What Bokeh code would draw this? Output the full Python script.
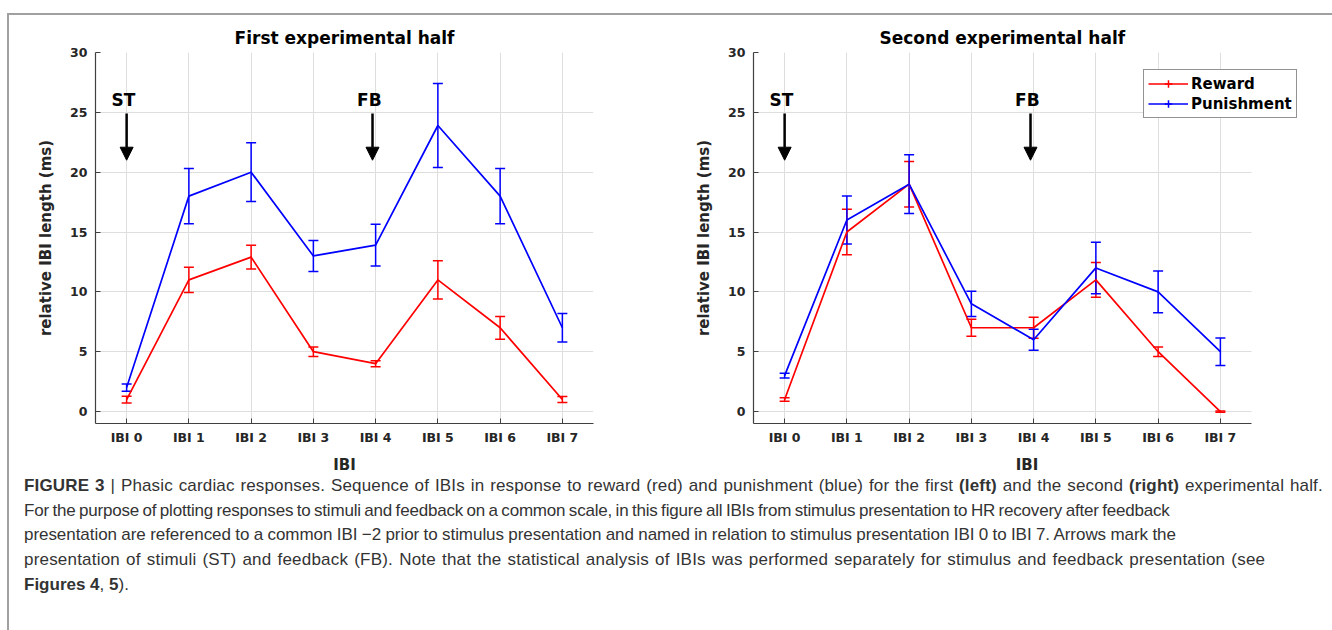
import numpy as np
from bokeh.plotting import figure
from bokeh.models import (ColumnDataSource, Whisker, TeeHead, Arrow, NormalHead, Range1d,
                          FixedTicker, Legend, LegendItem, Label, Div, Grid)
from bokeh.layouts import row, column
from bokeh.embed import file_html
from bokeh.resources import INLINE

# ---------------- data ----------------
ibi = [0, 1, 2, 3, 4, 5, 6, 7]
ibi_labels = ["IBI 0", "IBI 1", "IBI 2", "IBI 3", "IBI 4", "IBI 5", "IBI 6", "IBI 7"]
y_ticks = [0, 5, 10, 15, 20, 25, 30]

reward_first = [1.0, 11.0, 12.9, 5.0, 4.0, 11.0, 7.0, 1.0]
reward_first_err = [0.28, 1.05, 1.0, 0.4, 0.25, 1.6, 0.95, 0.25]
punish_first = [2.0, 18.0, 20.0, 13.0, 13.9, 23.9, 18.0, 7.0]
punish_first_err = [0.3, 2.3, 2.45, 1.3, 1.75, 3.5, 2.3, 1.2]

reward_second = [1.0, 15.0, 19.0, 7.0, 7.0, 11.0, 5.0, 0.0]
reward_second_err = [0.15, 1.9, 1.9, 0.72, 0.87, 1.45, 0.4, 0.05]
punish_second = [3.0, 16.0, 19.0, 9.0, 6.0, 12.0, 10.0, 5.0]
punish_second_err = [0.2, 2.0, 2.45, 1.05, 0.87, 2.15, 1.75, 1.15]

titles = ["First experimental half", "Second experimental half"]
event_labels = ["ST", "FB"]
event_x = [0.0, 3.95]
series_names = ["Reward", "Punishment"]
series_colors = ["#ff0000", "#0000ff"]

FONT = "DejaVu Sans"
TXT = "#262626"
GRID = "#dedede"
HAS_CROSS_BOUNDS = "cross_bounds" in Grid.properties()
FIG_H = 464


def make_panel(title, rew, rew_err, pun, pun_err, width, mbl, mbr, x_end, with_legend, title_offset):
    p = figure(width=width, height=FIG_H, x_range=Range1d(-0.5, x_end), y_range=Range1d(-1, 30),
               output_backend="svg", toolbar_location=None,
               min_border_left=mbl, min_border_right=mbr, min_border_top=37, min_border_bottom=56,
               title=title)
    p.outline_line_color = None
    p.background_fill_color = "white"
    p.border_fill_color = "white"
    p.title.text_font = FONT
    p.title.text_font_style = "bold"
    p.title.text_font_size = "17px"
    p.title.text_color = "#000000"
    if title_offset is None:
        p.title.align = "center"
    else:
        p.title.align = "left"
        p.title.offset = title_offset
    p.title.standoff = 9

    p.xaxis.ticker = FixedTicker(ticks=ibi)
    p.xaxis.major_label_overrides = {i: lab for i, lab in zip(ibi, ibi_labels)}
    p.xaxis.bounds = (-0.5, 7.5)
    p.yaxis.ticker = FixedTicker(ticks=y_ticks)
    for ax in (p.xaxis[0], p.yaxis[0]):
        ax.axis_line_color = "#404040"
        ax.axis_line_width = 1.2
        ax.major_tick_line_color = "#404040"
        ax.major_tick_in = 5
        ax.major_tick_out = 0
        ax.minor_tick_line_color = None
        ax.major_label_text_font = FONT
        ax.major_label_text_font_style = "bold"
        ax.major_label_text_font_size = "12.5px"
        ax.major_label_text_color = TXT
        ax.axis_label_text_font = FONT
        ax.axis_label_text_font_style = "bold"
        ax.axis_label_text_font_size = "15px"
        ax.axis_label_text_color = TXT
    p.xaxis.axis_label = "IBI"
    p.yaxis.axis_label = "relative IBI length (ms)"
    p.xaxis.major_label_standoff = 6
    p.xaxis.axis_label_standoff = 8
    p.yaxis.major_label_standoff = 8
    p.yaxis.axis_label_standoff = 12

    p.xgrid.grid_line_color = GRID
    p.xgrid.grid_line_width = 1
    if x_end > 7.5 and not HAS_CROSS_BOUNDS:
        p.ygrid.grid_line_color = None
        p.segment(x0=-0.5, x1=7.5, y0=y_ticks, y1=y_ticks, line_color=GRID, line_width=1,
                  level="underlay")
    else:
        p.ygrid.grid_line_color = GRID
        p.ygrid.grid_line_width = 1
        if x_end > 7.5:
            p.ygrid.cross_bounds = (-0.5, 7.5)

    items = []
    for name, col, vals, errs in ((series_names[0], series_colors[0], rew, rew_err),
                                  (series_names[1], series_colors[1], pun, pun_err)):
        v = np.array(vals)
        e = np.array(errs)
        src = ColumnDataSource(dict(x=ibi, y=v, upper=v + e, lower=v - e))
        w = Whisker(source=src, base="x", upper="upper", lower="lower",
                    line_color=col, line_width=1.5,
                    upper_head=TeeHead(size=10, line_color=col, line_width=1.5),
                    lower_head=TeeHead(size=10, line_color=col, line_width=1.5))
        p.add_layout(w)
        lr = p.line("x", "y", source=src, line_color=col, line_width=1.7)
        cr = p.scatter("x", "y", source=src, marker="cross", size=0, line_color=col, line_width=1.5)
        items.append(LegendItem(label=name, renderers=[lr, cr]))

    for lab, ex in zip(event_labels, event_x):
        p.add_layout(Label(x=ex - 0.05, y=26.0, text=lab, text_font=FONT, text_font_style="bold",
                           text_font_size="17px", text_color="#000000",
                           text_align="center", text_baseline="middle"))
        p.add_layout(Arrow(x_start=ex, y_start=24.9, x_end=ex, y_end=21.0,
                           line_color="black", line_width=2.5,
                           end=NormalHead(size=13, fill_color="black", line_color="black", line_width=1)))

    if with_legend:
        leg = Legend(items=items, location=(390, 305), orientation="vertical")
        leg.label_text_font = FONT
        leg.label_text_font_style = "bold"
        leg.label_text_font_size = "15px"
        leg.label_text_color = "#000000"
        leg.glyph_width = 40
        leg.glyph_height = 19
        leg.label_height = 19
        leg.label_standoff = 3
        leg.padding = 4
        leg.spacing = 1
        leg.margin = 0
        leg.border_line_color = "#262626"
        leg.border_line_width = 1
        leg.background_fill_alpha = 1
        p.add_layout(leg, "center")
    return p


# frame: x from -0.5 to 7.5 over 498 px (62.25 px/unit)
right_x_end = -0.5 + 547 / 62.25
p1 = make_panel(titles[0], reward_first, reward_first_err, punish_first, punish_first_err,
                658, 86, 74, 7.5, False, None)
p2 = make_panel(titles[1], reward_second, reward_second_err, punish_second, punish_second_err,
                662, 86, 29, right_x_end, True, 126)

caption_html = (
    "<div style=\"font-family:'Liberation Sans',Arial,sans-serif;"
    "font-size:17px;line-height:24.7px;color:#333333;white-space:nowrap;"
    "padding-left:10px;margin-top:-10px;\">"
    "<span style='letter-spacing:0.15px;word-spacing:1px'><b>FIGURE 3</b> | Phasic cardiac responses. Sequence of IBIs in response to reward (red) and "
    "punishment (blue) for the first <b>(left)</b> and the second <b>(right)</b> experimental half.</span><br>"
    "<span style='letter-spacing:-0.2px;word-spacing:-1px'>For the purpose of plotting responses to stimuli and feedback on a common scale, in this figure all "
    "IBIs from stimulus presentation to HR recovery after feedback</span><br>"
    "<span style='letter-spacing:-0.05px;word-spacing:-0.3px'>presentation are referenced to a common IBI \u22122 prior to stimulus presentation and named in "
    "relation to stimulus presentation IBI 0 to IBI 7. Arrows mark the</span><br>"
    "<span style='letter-spacing:0.2px;word-spacing:1.2px'>presentation of stimuli (ST) and feedback (FB). Note that the statistical analysis of IBIs was "
    "performed separately for stimulus and feedback presentation (see</span><br>"
    "<b>Figures 4</b>, <b>5</b>)."
    "</div>"
)
caption = Div(text=caption_html, width=1320, height=146)

layout = column(row(p1, p2), caption,
                styles={"border-top": "2px solid #a0a0a0", "border-left": "2px solid #a0a0a0",
                        "border-right": "2px solid #a0a0a0", "margin-top": "13px",
                        "margin-left": "7px"})

open("out.html", "w").write(file_html(layout, INLINE))
